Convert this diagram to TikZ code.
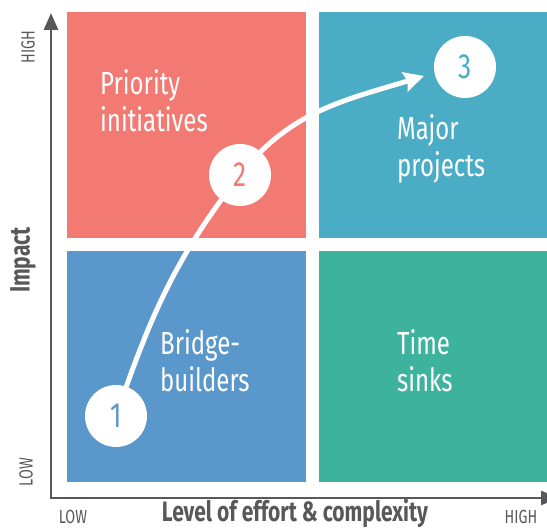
\documentclass[tikz,border=0pt]{standalone}
\usepackage{fontspec}
\setmainfont{Fira Sans}[FakeStretch=0.75]
\usetikzlibrary{arrows.meta}
\definecolor{prioRed}{RGB}{243,122,114}
\definecolor{majorTeal}{RGB}{74,172,197}
\definecolor{bridgeBlue}{RGB}{90,151,203}
\definecolor{sinkGreen}{RGB}{61,179,157}
\definecolor{axisGray}{RGB}{88,88,90}
\begin{document}
\begin{tikzpicture}[x=1pt,y=1pt,
    quadlabel/.style={text=white,font=\fontsize{32}{37}\selectfont,align=left,anchor=base west,inner sep=0pt},
    stepnum/.style={circle,fill=white,minimum size=62pt,inner sep=0pt,font=\fontsize{35}{35}\selectfont},
    axisline/.style={line width=2.8pt,draw=axisGray,{Triangle[length=17pt,width=14pt]}-{Triangle[length=17pt,width=14pt]}},
    ticklabel/.style={text=axisGray,font=\fontsize{19}{19}\selectfont,inner sep=0pt},
    axislabel/.style={text=axisGray,font=\fontsize{28}{28}\selectfont\bfseries,inner sep=0pt}]
  \useasboundingbox (0,0) rectangle (547,529);
  % quadrants
  \fill[prioRed] (67,291) rectangle (306,517);
  \fill[majorTeal] (319,291) rectangle (560,517);
  \fill[bridgeBlue] (67,47) rectangle (306,278);
  \fill[sinkGreen] (319,47) rectangle (560,278);
  \node[quadlabel] (prio) at (100,397) {Priority\\initiatives};
  \node[quadlabel] (major) at (397,352) {Major\\projects};
  \node[quadlabel] (bridge) at (160,137) {Bridge-\\builders};
  \node[quadlabel] (sinks) at (397,137) {Time\\sinks};
  % axes
  \coordinate (orig) at (51,31);
  \coordinate (ytop) at (51,516);
  \coordinate (xend) at (558,31);
  \draw[axisline] (ytop) -- (orig) -- (xend);
  \node[ticklabel,rotate=90] (yhigh) at (28,482) {HIGH};
  \node[ticklabel,rotate=90] (ylow) at (26,57) {LOW};
  \node[ticklabel] (xlow) at (73,12) {LOW};
  \node[ticklabel] (xhigh) at (521,12) {HIGH};
  \node[axislabel,rotate=90] (impact) at (23,269) {Impact};
  \node[axislabel,anchor=base] (effort) at (295,7) {Level of effort \& complexity};
  % path through the steps
  \coordinate (p1) at (116,113);
  \coordinate (p2) at (240,354);
  \coordinate (tip) at (424,453);
  \draw[white,line width=5pt,-{Stealth[length=20pt,width=20pt,inset=3pt]}]
    (p1) to[out=71,in=232] (p2) to[out=52,in=197] (tip);
  \node[stepnum,text=bridgeBlue] (s1) at (p1) {1};
  \node[stepnum,text=prioRed] (s2) at (p2) {2};
  \node[stepnum,text=majorTeal] (s3) at (465,462) {3};
\end{tikzpicture}
\end{document}
